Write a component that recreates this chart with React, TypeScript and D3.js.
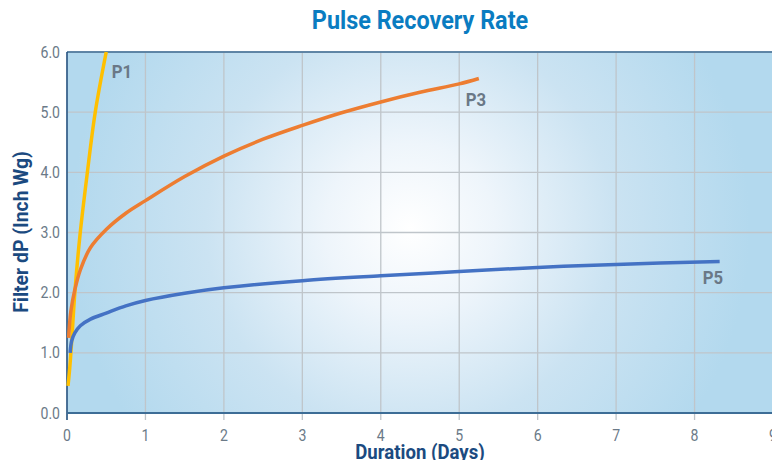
import React from "react";
import * as d3 from "d3";

const p1Days = [0.013, 0.035, 0.06, 0.1, 0.165, 0.255, 0.36, 0.5];
const p1Vals = [0.45, 0.75, 1.2, 2.0, 2.95, 3.95, 5.0, 6.0];

const p3Days = [0.02, 0.05, 0.1, 0.17, 0.3, 0.5, 0.75, 1, 1.5, 2, 2.5, 3, 3.5, 4, 4.5, 5, 5.25];
const p3Vals = [1.25, 1.7, 2.05, 2.38, 2.75, 3.05, 3.32, 3.53, 3.93, 4.27, 4.55, 4.78, 4.99, 5.17, 5.33, 5.47, 5.56];

const p5Days = [0.04, 0.06, 0.1, 0.17, 0.3, 0.5, 0.75, 1, 1.5, 2, 3, 4, 5, 6, 7, 8.32];
const p5Vals = [1.0, 1.2, 1.33, 1.45, 1.56, 1.66, 1.78, 1.87, 1.99, 2.08, 2.2, 2.28, 2.35, 2.42, 2.47, 2.52];

const xTicks = [0, 1, 2, 3, 4, 5, 6, 7, 8, 9];
const yTicks = [0, 1, 2, 3, 4, 5, 6];

const seriesNames = ["P1", "P3", "P5"];
const seriesColors = ["#ffc000", "#ed7d31", "#4472c4"];

const W = 772;
const H = 460;
const L = 67;
const R = 773;
const T = 52;
const B = 413;

const font = "'Roboto', 'Liberation Sans', sans-serif";

function CText(props: {
  x: number;
  y: number;
  sx?: number;
  rotate?: number;
  anchor?: string;
  size: number;
  bold?: boolean;
  fill: string;
  children: React.ReactNode;
}) {
  const { x, y, sx = 0.88, rotate = 0, anchor = "middle", size, bold, fill, children } = props;
  const tr = rotate
    ? `translate(${x},${y}) rotate(${rotate}) scale(${sx},1)`
    : `translate(${x},${y}) scale(${sx},1)`;
  return (
    <text
      transform={tr}
      textAnchor={anchor}
      fontFamily={font}
      fontWeight={bold ? "bold" : "normal"}
      fontSize={size}
      fill={fill}
    >
      {children}
    </text>
  );
}

export default function App() {
  const x = d3.scaleLinear().domain([0, 9]).range([L, R]);
  const y = d3.scaleLinear().domain([0, 6]).range([B, T]);
  const line = d3
    .line<[number, number]>()
    .x((d) => x(d[0]))
    .y((d) => y(d[1]))
    .curve(d3.curveCatmullRom.alpha(0.5));

  const series = [
    { days: p1Days, vals: p1Vals },
    { days: p3Days, vals: p3Vals },
    { days: p5Days, vals: p5Vals },
  ].map((s, i) => ({
    name: seriesNames[i],
    color: seriesColors[i],
    pts: s.days.map((d, j) => [d, s.vals[j]] as [number, number]),
  }));

  const labelPos: Record<string, [number, number]> = {
    P1: [122, 78],
    P3: [476, 106],
    P5: [713, 284],
  };

  return (
    <svg
      width={W}
      height={H}
      style={{ position: "absolute", left: 0, top: 0, display: "block" }}
    >
      <defs>
        <radialGradient id="bg" gradientUnits="userSpaceOnUse" cx={410} cy={228} r={340}>
          <stop offset="0" stopColor="#ffffff" />
          <stop offset="0.25" stopColor="#eef5fb" />
          <stop offset="0.6" stopColor="#cbe3f2" />
          <stop offset="1" stopColor="#b3d9ee" />
        </radialGradient>
      </defs>
      <rect x={0} y={0} width={W} height={H} fill="#ffffff" />
      <rect x={L} y={T} width={R - L} height={B - T} fill="url(#bg)" />

      {xTicks.map((t) => (
        <line key={"gx" + t} x1={x(t)} x2={x(t)} y1={T} y2={B + 7} stroke="#bfc5ca" strokeWidth={1.3} />
      ))}
      {yTicks.map((t) => (
        <line key={"gy" + t} x1={L} x2={R} y1={y(t)} y2={y(t)} stroke="#bfc5ca" strokeWidth={1.3} />
      ))}

      <line x1={L} x2={R} y1={T} y2={T} stroke="#3d6d96" strokeWidth={1.5} />
      <line x1={L} x2={L} y1={T} y2={B + 7} stroke="#1f4f80" strokeWidth={1.5} />
      <line x1={L} x2={R} y1={B} y2={B} stroke="#3d6d96" strokeWidth={2} />

      {series.map((s) => (
        <path key={s.name} d={line(s.pts) || ""} fill="none" stroke={s.color} strokeWidth={3.5} />
      ))}

      {series.map((s) => (
        <CText key={"l" + s.name} x={labelPos[s.name][0]} y={labelPos[s.name][1]} size={19} bold fill="#6a7886">
          {s.name}
        </CText>
      ))}

      {yTicks.map((t) => (
        <CText key={"ty" + t} x={60} y={y(t) + 5.5} anchor="end" size={16} fill="#6b7a88">
          {d3.format(".1f")(t)}
        </CText>
      ))}
      {xTicks.map((t) => (
        <CText key={"tx" + t} x={x(t)} y={441} size={16} fill="#6b7a88">
          {String(t)}
        </CText>
      ))}

      <CText x={420} y={29} size={26} sx={0.9} bold fill="#0a7cc1">
        Pulse Recovery Rate
      </CText>
      <CText x={420} y={459} size={20} sx={0.93} bold fill="#1b4a80">
        Duration (Days)
      </CText>
      <CText x={28} y={232} rotate={-90} size={20} sx={0.97} bold fill="#1b4a80">
        Filter dP (Inch Wg)
      </CText>
    </svg>
  );
}
